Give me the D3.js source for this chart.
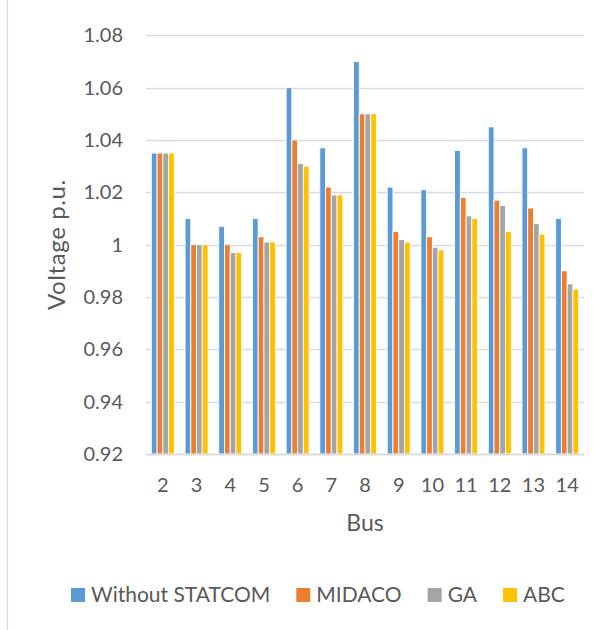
<!DOCTYPE html>
<html>
<head>
<meta charset="utf-8">
<script src="https://cdn.jsdelivr.net/npm/d3@7/dist/d3.min.js"></script>
<style>
  html, body { margin: 0; padding: 0; background: #fff; }
  svg { display: block; font-family: Lato, "Open Sans", sans-serif; }
</style>
</head>
<body>
<svg id="chart" width="607" height="630"></svg>
<script>
// Bus voltage profile (p.u.) for each compensation case
const buses = ["2", "3", "4", "5", "6", "7", "8", "9", "10", "11", "12", "13", "14"];
const seriesNames = ["Without STATCOM", "MIDACO", "GA", "ABC"];
const seriesColors = ["#5B9BD5", "#ED7D31", "#A5A5A5", "#FFC000"];

const withoutStatcom = [1.035, 1.010, 1.007, 1.010, 1.060, 1.037, 1.070, 1.022, 1.021, 1.036, 1.045, 1.037, 1.010];
const midaco         = [1.035, 1.000, 1.000, 1.003, 1.040, 1.022, 1.050, 1.005, 1.003, 1.018, 1.017, 1.014, 0.990];
const ga             = [1.035, 1.000, 0.997, 1.001, 1.031, 1.019, 1.050, 1.002, 0.999, 1.011, 1.015, 1.008, 0.985];
const abc            = [1.035, 1.000, 0.997, 1.001, 1.030, 1.019, 1.050, 1.001, 0.998, 1.010, 1.005, 1.004, 0.983];

const yTicks = [0.92, 0.94, 0.96, 0.98, 1.00, 1.02, 1.04, 1.06, 1.08];
const yDomain = [0.92, 1.08];

const seriesValues = [withoutStatcom, midaco, ga, abc];

const svg = d3.select("#chart");
const plot = { left: 146, right: 584, top: 35.3, bottom: 454 };
const textColor = "#595959";
const gridColor = "#D9D9D9";

// chart frame edge on the left
svg.append("line")
  .attr("x1", 7.5).attr("x2", 7.5).attr("y1", 0).attr("y2", 630)
  .attr("stroke", gridColor).attr("stroke-width", 1.2);

const x0 = d3.scaleBand().domain(buses)
  .range([plot.left, plot.right])
  .paddingInner(0.317).paddingOuter(0.1585);
const x1 = d3.scaleBand().domain(seriesNames).range([0, x0.bandwidth()]);
const y = d3.scaleLinear().domain(yDomain).range([plot.bottom, plot.top]);

// horizontal gridlines
svg.append("g").selectAll("line").data(yTicks).join("line")
  .attr("x1", plot.left).attr("x2", plot.right)
  .attr("y1", d => Math.round(y(d)) + 0.5).attr("y2", d => Math.round(y(d)) + 0.5)
  .attr("stroke", gridColor).attr("stroke-width", 1.3);

// y axis labels
const yAxis = d3.axisLeft(y).tickValues(yTicks).tickSize(0).tickPadding(23)
  .tickFormat(d => String(+d.toFixed(2)));
const gy = svg.append("g").attr("transform", `translate(${plot.left},0)`).call(yAxis);
gy.select(".domain").remove();
gy.selectAll("text").attr("fill", textColor).style("font-size", "20px")
  .style("font-family", "Lato, 'Open Sans', sans-serif");

// bars
const rows = buses.map((b, i) => ({ bus: b, vals: seriesNames.map((s, k) => ({ s, k, v: seriesValues[k][i] })) }));
const groups = svg.append("g").selectAll("g").data(rows).join("g")
  .attr("transform", d => `translate(${x0(d.bus)},0)`);
groups.selectAll("rect").data(d => d.vals).join("rect")
  .attr("x", d => x1(d.s))
  .attr("width", x1.bandwidth())
  .attr("y", d => y(d.v))
  .attr("height", d => y(yDomain[0]) - y(d.v))
  .attr("fill", d => seriesColors[d.k])
  .attr("stroke", "#fff").attr("stroke-width", 0.9);

// category axis
svg.append("line")
  .attr("x1", plot.left).attr("x2", plot.right)
  .attr("y1", Math.round(y(yDomain[0])) + 0.5).attr("y2", Math.round(y(yDomain[0])) + 0.5)
  .attr("stroke", gridColor).attr("stroke-width", 1.5);

const xAxis = d3.axisBottom(x0).tickSize(0).tickPadding(24);
const gx = svg.append("g").attr("transform", `translate(0,${plot.bottom})`).call(xAxis);
gx.select(".domain").remove();
gx.selectAll("text").attr("fill", textColor).style("font-size", "20px")
  .style("font-family", "Lato, 'Open Sans', sans-serif");

// axis titles
svg.append("text")
  .attr("x", (plot.left + plot.right) / 2).attr("y", 531)
  .attr("text-anchor", "middle").attr("fill", textColor)
  .style("font-size", "23px").text("Bus");

svg.append("text")
  .attr("transform", `translate(65,${(plot.top + plot.bottom) / 2}) rotate(-90)`)
  .attr("text-anchor", "middle").attr("fill", textColor)
  .style("font-size", "24px").style("letter-spacing", "0.6px").text("Voltage p.u.");

// legend
const legend = svg.append("g");
let lx = 71;
seriesNames.forEach((name, k) => {
  const item = legend.append("g").attr("transform", `translate(${lx},0)`);
  item.append("rect").attr("x", 0).attr("y", 588).attr("width", 14).attr("height", 14)
    .attr("fill", seriesColors[k]);
  const t = item.append("text").attr("x", 20).attr("y", 602)
    .attr("fill", textColor).style("font-size", "21px").text(name);
  lx += 20 + t.node().getComputedTextLength() + 26;
});
</script>
</body>
</html>
